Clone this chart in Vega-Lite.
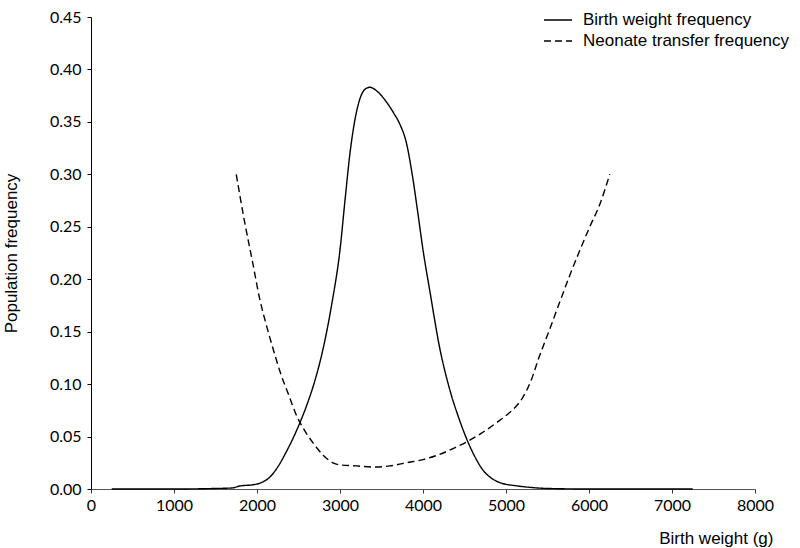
{
  "$schema": "https://vega.github.io/schema/vega-lite/v6.json",
  "autosize": "none",
  "width": 664,
  "height": 472,
  "padding": {"left": 91, "top": 17, "right": 45, "bottom": 59},
  "background": "white",
  "config": {"view": {"stroke": null}},
  "data": {"values": [
    {"s": "Birth weight frequency", "w": 250, "f": 0},
    {"s": "Birth weight frequency", "w": 1000, "f": 0},
    {"s": "Birth weight frequency", "w": 1500, "f": 0.0005},
    {"s": "Birth weight frequency", "w": 1700, "f": 0.001},
    {"s": "Birth weight frequency", "w": 1800, "f": 0.003},
    {"s": "Birth weight frequency", "w": 1950, "f": 0.004},
    {"s": "Birth weight frequency", "w": 2050, "f": 0.006},
    {"s": "Birth weight frequency", "w": 2150, "f": 0.011},
    {"s": "Birth weight frequency", "w": 2250, "f": 0.021},
    {"s": "Birth weight frequency", "w": 2350, "f": 0.035},
    {"s": "Birth weight frequency", "w": 2450, "f": 0.051},
    {"s": "Birth weight frequency", "w": 2500, "f": 0.06},
    {"s": "Birth weight frequency", "w": 2600, "f": 0.08},
    {"s": "Birth weight frequency", "w": 2700, "f": 0.104},
    {"s": "Birth weight frequency", "w": 2800, "f": 0.135},
    {"s": "Birth weight frequency", "w": 2900, "f": 0.176},
    {"s": "Birth weight frequency", "w": 3000, "f": 0.228},
    {"s": "Birth weight frequency", "w": 3060, "f": 0.275},
    {"s": "Birth weight frequency", "w": 3120, "f": 0.32},
    {"s": "Birth weight frequency", "w": 3180, "f": 0.352},
    {"s": "Birth weight frequency", "w": 3240, "f": 0.372},
    {"s": "Birth weight frequency", "w": 3300, "f": 0.381},
    {"s": "Birth weight frequency", "w": 3360, "f": 0.383},
    {"s": "Birth weight frequency", "w": 3450, "f": 0.379},
    {"s": "Birth weight frequency", "w": 3550, "f": 0.37},
    {"s": "Birth weight frequency", "w": 3650, "f": 0.358},
    {"s": "Birth weight frequency", "w": 3720, "f": 0.348},
    {"s": "Birth weight frequency", "w": 3800, "f": 0.33},
    {"s": "Birth weight frequency", "w": 3870, "f": 0.3},
    {"s": "Birth weight frequency", "w": 3940, "f": 0.262},
    {"s": "Birth weight frequency", "w": 4000, "f": 0.228},
    {"s": "Birth weight frequency", "w": 4084, "f": 0.188},
    {"s": "Birth weight frequency", "w": 4200, "f": 0.135},
    {"s": "Birth weight frequency", "w": 4325, "f": 0.094},
    {"s": "Birth weight frequency", "w": 4430, "f": 0.068},
    {"s": "Birth weight frequency", "w": 4530, "f": 0.047},
    {"s": "Birth weight frequency", "w": 4630, "f": 0.03},
    {"s": "Birth weight frequency", "w": 4723, "f": 0.018},
    {"s": "Birth weight frequency", "w": 4830, "f": 0.01},
    {"s": "Birth weight frequency", "w": 4930, "f": 0.006},
    {"s": "Birth weight frequency", "w": 5130, "f": 0.003},
    {"s": "Birth weight frequency", "w": 5300, "f": 0.0015},
    {"s": "Birth weight frequency", "w": 5500, "f": 0.0005},
    {"s": "Birth weight frequency", "w": 6000, "f": 0},
    {"s": "Birth weight frequency", "w": 7250, "f": 0},
    {"s": "Neonate transfer frequency", "w": 1750, "f": 0.3},
    {"s": "Neonate transfer frequency", "w": 1850, "f": 0.255},
    {"s": "Neonate transfer frequency", "w": 1950, "f": 0.215},
    {"s": "Neonate transfer frequency", "w": 2036, "f": 0.18},
    {"s": "Neonate transfer frequency", "w": 2100, "f": 0.16},
    {"s": "Neonate transfer frequency", "w": 2200, "f": 0.132},
    {"s": "Neonate transfer frequency", "w": 2277, "f": 0.112},
    {"s": "Neonate transfer frequency", "w": 2380, "f": 0.09},
    {"s": "Neonate transfer frequency", "w": 2482, "f": 0.069},
    {"s": "Neonate transfer frequency", "w": 2580, "f": 0.055},
    {"s": "Neonate transfer frequency", "w": 2675, "f": 0.044},
    {"s": "Neonate transfer frequency", "w": 2800, "f": 0.032},
    {"s": "Neonate transfer frequency", "w": 2916, "f": 0.025},
    {"s": "Neonate transfer frequency", "w": 3000, "f": 0.023},
    {"s": "Neonate transfer frequency", "w": 3200, "f": 0.022},
    {"s": "Neonate transfer frequency", "w": 3400, "f": 0.021},
    {"s": "Neonate transfer frequency", "w": 3600, "f": 0.022},
    {"s": "Neonate transfer frequency", "w": 3800, "f": 0.025},
    {"s": "Neonate transfer frequency", "w": 4000, "f": 0.028},
    {"s": "Neonate transfer frequency", "w": 4200, "f": 0.033},
    {"s": "Neonate transfer frequency", "w": 4400, "f": 0.04},
    {"s": "Neonate transfer frequency", "w": 4530, "f": 0.045},
    {"s": "Neonate transfer frequency", "w": 4700, "f": 0.053},
    {"s": "Neonate transfer frequency", "w": 4900, "f": 0.064},
    {"s": "Neonate transfer frequency", "w": 5000, "f": 0.07},
    {"s": "Neonate transfer frequency", "w": 5100, "f": 0.077},
    {"s": "Neonate transfer frequency", "w": 5200, "f": 0.087},
    {"s": "Neonate transfer frequency", "w": 5300, "f": 0.103},
    {"s": "Neonate transfer frequency", "w": 5400, "f": 0.126},
    {"s": "Neonate transfer frequency", "w": 5530, "f": 0.153},
    {"s": "Neonate transfer frequency", "w": 5651, "f": 0.179},
    {"s": "Neonate transfer frequency", "w": 5770, "f": 0.204},
    {"s": "Neonate transfer frequency", "w": 5892, "f": 0.228},
    {"s": "Neonate transfer frequency", "w": 6010, "f": 0.25},
    {"s": "Neonate transfer frequency", "w": 6133, "f": 0.272},
    {"s": "Neonate transfer frequency", "w": 6250, "f": 0.3}
  ]},
  "mark": {"type": "line", "interpolate": "monotone", "color": "black", "strokeWidth": 1.4},
  "encoding": {
    "x": {
      "field": "w", "type": "quantitative",
      "scale": {"domain": [0, 8000], "nice": false, "zero": true},
      "axis": {
        "values": [0, 1000, 2000, 3000, 4000, 5000, 6000, 7000, 8000],
        "format": "d",
        "grid": false,
        "title": "Birth weight (g)",
        "titleFont": "Liberation Sans", "titleFontSize": 17, "titleFontWeight": "normal", "titleColor": "black",
        "titleAnchor": "end", "titleAlign": "right", "titleX": 682, "titleY": 54, "titleBaseline": "alphabetic",
        "labelFont": "Lato", "labelFontSize": 16, "labelColor": "black", "labelPadding": 4,
        "domainColor": "#555", "tickColor": "#333", "tickSize": 4, "labelFlush": false
      }
    },
    "y": {
      "field": "f", "type": "quantitative",
      "scale": {"domain": [0, 0.45], "nice": false},
      "axis": {
        "values": [0, 0.05, 0.1, 0.15, 0.2, 0.25, 0.3, 0.35, 0.4, 0.45],
        "format": ".2f",
        "grid": false,
        "title": "Population frequency",
        "titleFont": "Liberation Sans", "titleFontSize": 17, "titleFontWeight": "normal", "titleColor": "black",
        "titleX": -71, "titleY": 236, "titleAnchor": "middle", "titleAngle": -90,
        "labelFont": "Lato", "labelFontSize": 16, "labelColor": "black", "labelPadding": 6,
        "domainColor": "black", "tickColor": "black", "tickSize": 4, "labelFlush": false
      }
    },
    "strokeDash": {
      "field": "s", "type": "nominal",
      "scale": {"domain": ["Birth weight frequency", "Neonate transfer frequency"], "range": [[1, 0], [7, 4]]},
      "legend": {
        "title": null,
        "orient": "none", "legendX": 452, "legendY": -5,
        "symbolType": "stroke", "symbolSize": 784, "symbolStrokeWidth": 1.4, "symbolStrokeColor": "black",
        "labelFont": "Liberation Sans", "labelFontSize": 17, "labelColor": "black", "labelLimit": 0,
        "clipHeight": 16, "rowPadding": 4, "labelOffset": 10
      }
    }
  }
}
